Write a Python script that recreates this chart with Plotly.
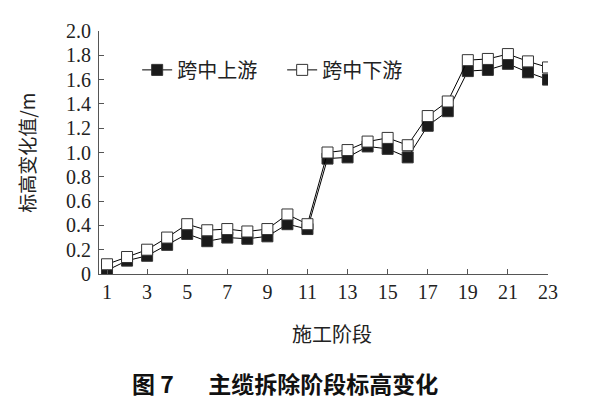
import plotly.graph_objects as go

# construction stages and elevation change (m)
stages = list(range(1, 24))
upstream = [0.03, 0.11, 0.15, 0.24, 0.33, 0.27, 0.30, 0.29, 0.31, 0.41, 0.37,
            0.95, 0.96, 1.05, 1.03, 0.96, 1.22, 1.34, 1.67, 1.68, 1.73, 1.66, 1.60]
downstream = [0.08, 0.14, 0.20, 0.30, 0.41, 0.36, 0.37, 0.35, 0.37, 0.49, 0.41,
              1.00, 1.02, 1.09, 1.12, 1.06, 1.30, 1.42, 1.76, 1.77, 1.81, 1.75, 1.70]
x_ticks = list(range(1, 24, 2))
y_ticks = [0, 0.2, 0.4, 0.6, 0.8, 1.0, 1.2, 1.4, 1.6, 1.8, 2.0]
y_labels = ["0"] + ["%.1f" % v for v in y_ticks[1:]]

CJK = "Noto Sans CJK SC"
SERIF = "Liberation Serif"
AX = "#555555"
TXT = "#222222"

fig = go.Figure()
fig.add_trace(go.Scatter(
    x=stages, y=upstream, name="跨中上游", mode="lines+markers",
    line=dict(color="black", width=1),
    marker=dict(symbol="square", size=11, color="#1a1a1a",
                line=dict(color="#333333", width=1))))
fig.add_trace(go.Scatter(
    x=stages, y=downstream, name="跨中下游", mode="lines+markers",
    line=dict(color="black", width=1),
    marker=dict(symbol="square", size=11, color="white",
                line=dict(color="#333333", width=1))))

# page body has an 8px margin, so the margins are trimmed by 8 on left/top
fig.update_layout(
    width=590, height=412,
    margin=dict(l=91, r=50, t=17, b=146),
    paper_bgcolor="white", plot_bgcolor="white",
    showlegend=True,
    legend=dict(orientation="h", x=0.085, y=0.84, yanchor="middle", xanchor="left",
                font=dict(family=CJK, size=20, color=TXT),
                bgcolor="rgba(0,0,0,0)", itemwidth=30, entrywidth=100),
    xaxis=dict(range=[0.6, 23], tickvals=x_ticks, ticks="inside", ticklen=5,
               tickcolor=AX, showline=True, linecolor=AX, linewidth=1,
               showgrid=False, zeroline=False,
               tickfont=dict(family=SERIF, size=20, color=TXT)),
    yaxis=dict(range=[0, 2.0], tickvals=y_ticks, ticktext=y_labels,
               ticks="inside", ticklen=5, tickcolor=AX, showline=True,
               linecolor=AX, linewidth=1, showgrid=False, zeroline=False,
               ticklabelstandoff=3,
               tickfont=dict(family=SERIF, size=20, color=TXT)),
    annotations=[
        dict(text="施工阶段", xref="paper", yref="paper", x=0.52, y=-0.245,
             xanchor="center", yanchor="middle", showarrow=False,
             font=dict(family=CJK, size=20, color=TXT)),
        dict(text="标高变化值/m", xref="paper", yref="paper", x=-0.162, y=0.5,
             xanchor="center", yanchor="middle", textangle=-90, showarrow=False,
             font=dict(family=CJK, size=19, color=TXT)),
        dict(text="<b>图 7</b>\u2003\u2002<b>主缆拆除阶段标高变化</b>", xref="paper",
             yref="paper", x=0.415, y=-0.45, xanchor="center", yanchor="middle",
             showarrow=False, font=dict(family=CJK, size=23, color="#111111")),
    ],
)

fig.write_html("out.html")
